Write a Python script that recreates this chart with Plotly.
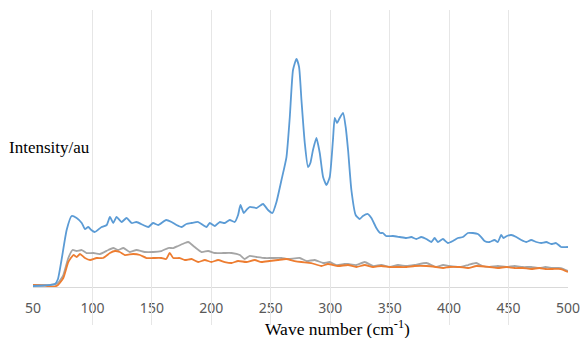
import plotly.graph_objects as go

# ---- data (wave number cm^-1, intensity a.u.) ----
blue_w = [50, 60, 68.5, 71, 74, 78.3, 82.5, 86.7, 91, 93.7, 96.5, 99, 102, 107.7, 112, 114.7, 117.5, 120.3,
          124.5, 128.7, 133, 137, 142.7, 147, 151, 155.3, 162, 166.5, 170.7, 175, 179, 183.3, 189, 193, 196,
          198.7, 203, 207, 211.3, 215.5, 219.7, 222.5, 224.5, 227.3, 229.5, 232.3, 238, 243.5, 247.7, 251.4,
          254.8, 259, 263.2, 266, 268.7, 271.6, 273.8, 275.8, 278.6, 281.3, 283.3, 285.5, 288.4, 291.2, 294,
          296.8, 299.6, 302.3, 303.8, 305.7, 308, 310.8, 313, 315, 317.8, 321.4, 324.8, 327.5, 331.7, 334.6,
          338.8, 342, 344.3, 347, 352.8, 358.4, 364, 368.2, 372.4, 376.6, 380.8, 385, 387.8, 390.6, 394.8,
          399, 403.2, 407.4, 411.6, 415.8, 420, 424.2, 427, 429.8, 434, 438.2, 441, 443.8, 445.8, 448.6, 452.3,
          456.5, 460.7, 465, 469, 473.3, 477.5, 481.7, 485.9, 490, 494.2, 500]
blue_i = [1, 1.5, 3, 8, 27, 57, 71, 69, 64, 58, 60, 57, 55, 60, 62, 70, 64, 70,
          65, 69, 64, 65, 62, 60, 64, 62, 67, 65, 62, 60, 63, 64, 65, 62, 60,
          64, 61, 65, 64, 67, 65, 72, 82, 74, 77, 80, 79, 83, 77, 74,
          85, 107, 130, 170, 217, 228, 220, 187, 144, 120, 124, 137, 149, 134, 110,
          102, 110, 147, 169, 164, 169, 174, 160, 137, 97, 72, 68, 71, 73, 69,
          59, 54, 54, 51, 51, 50, 49, 50, 48, 50, 48, 45, 49, 45, 48,
          44, 46, 49, 50, 54, 54, 53, 50, 46, 45, 47, 45, 52, 49, 51, 52,
          50, 47, 45, 47, 45, 44, 45, 43, 44, 40, 40]

gray_w = [50, 64, 71, 75.5, 79.7, 83.3, 86.7, 91, 95, 100.7, 106.3, 113.3, 117.5, 121.7, 126, 131.5, 137, 144,
          151, 158, 163.7, 168, 172, 177.7, 180.5, 182, 186, 191.8, 197.3, 203, 210, 217, 224, 228, 232, 238,
          245, 250.5, 259, 264.5, 274.4, 280, 287, 294, 299.6, 305, 312, 315, 322, 329, 336, 343, 350, 357,
          364, 371, 381, 389, 395, 400, 409, 416, 422.8, 428, 434, 441, 448, 455, 462, 469, 476, 481, 487,
          494, 500]
gray_i = [2, 2, 4, 12, 29, 37, 36, 37, 34, 34, 33, 37, 39, 37, 39, 35, 37, 35,
          35, 36, 39, 39, 41, 44, 45, 44, 40, 35, 36, 34, 34, 34, 32, 28, 31, 30,
          29, 29, 29, 28, 29, 26, 27, 24, 25, 22, 23, 23, 22, 25, 21, 22, 20, 22,
          21, 22, 24, 20, 22, 21, 20, 22, 24, 21, 20, 21, 20, 21, 20, 20, 19, 20, 19,
          19, 16]

orange_w = [50, 60, 66, 71, 75.5, 79.7, 84, 86.7, 89.5, 93.7, 98, 103.5, 109, 114.7, 119, 123, 127.3, 134.3,
            140, 145.5, 151, 158, 162, 165, 168, 173.5, 177.7, 183.3, 189, 194.5, 200, 205.7, 211.3, 217,
            222.5, 229.5, 236.5, 242, 249, 256, 263, 270, 275.8, 284, 292.6, 298, 306.5, 315, 322, 329, 336,
            343, 350, 357, 364, 371, 381, 389, 395, 400, 409, 416, 423, 434, 441, 448, 455, 462, 469, 476,
            481, 487, 494, 500]
orange_i = [2, 1.5, 0, 2, 9, 25, 32, 30, 33, 29, 27, 29, 29, 34, 36, 35, 32, 33,
            32, 29, 29, 29, 28, 34, 29, 29, 27, 28, 25, 27, 25, 27, 25, 24,
            26, 25, 27, 25, 26, 27, 28, 26, 25, 24, 21, 23, 21, 22, 20, 22, 20,
            21, 20, 20, 20, 21, 21, 20, 19, 20, 20, 19, 21, 20, 19, 20, 19, 19, 18, 19,
            18, 18, 18, 15]

x_ticks = [50, 100, 150, 200, 250, 300, 350, 400, 450, 500]
X_MIN, X_MAX = 50, 500

GRID = "#E6E6E6"
STRIP = 0.1206  # fraction of plot height used by the gridline strip below the axis

fig = go.Figure()
for w, i, c in [(gray_w, gray_i, "#A5A5A5"), (orange_w, orange_i, "#ED7D31"), (blue_w, blue_i, "#5B9BD5")]:
    fig.add_trace(go.Scatter(x=w, y=i, mode="lines",
                             line=dict(color=c, width=1.8, shape="spline", smoothing=0.5),
                             showlegend=False, hoverinfo="skip"))
# empty trace to create the strip subplot that carries the gridline extensions
fig.add_trace(go.Scatter(x=[], y=[], xaxis="x2", yaxis="y2", showlegend=False, hoverinfo="skip"))

fig.update_layout(
    width=582, height=338, autosize=False,
    margin=dict(l=33, r=14, t=10, b=13, autoexpand=False),
    paper_bgcolor="white", plot_bgcolor="white",
    xaxis=dict(range=[X_MIN, X_MAX], tickvals=x_ticks, showgrid=True, gridcolor=GRID, gridwidth=1,
               showline=True, linecolor="#D9D9D9", linewidth=1, zeroline=False, automargin=False,
               anchor="y", ticks="outside", ticklen=8, tickcolor="rgba(0,0,0,0)",
               tickfont=dict(family="Noto Sans", size=14, color="#595959")),
    yaxis=dict(range=[0, 277], domain=[STRIP, 1], showgrid=False, showticklabels=False, zeroline=False,
               showline=False, automargin=False),
    xaxis2=dict(range=[X_MIN, X_MAX], tickvals=x_ticks, showgrid=True, gridcolor=GRID, gridwidth=1,
                showticklabels=False, showline=False, zeroline=False, anchor="y2", automargin=False),
    yaxis2=dict(range=[0, 1], domain=[0, STRIP], showgrid=False, showticklabels=False, zeroline=False,
                showline=False, anchor="x2", automargin=False),
    annotations=[
        dict(text="Intensity/au", xref="paper", yref="paper", x=0, y=0.562, xanchor="left", yanchor="middle",
             xshift=-26, showarrow=False, font=dict(family="Liberation Serif", size=17, color="black")),
        dict(text="Wave number (cm<sup>-1</sup>)", xref="paper", yref="paper", x=0.569, y=-0.0095,
             xanchor="center", yanchor="middle", showarrow=False,
             font=dict(family="Liberation Serif", size=17.5, color="black")),
    ],
)

fig.write_html("out.html",
               config={"displayModeBar": False, "responsive": False, "staticPlot": True},
               post_script="document.body.style.margin='0';document.body.style.overflow='hidden';")
